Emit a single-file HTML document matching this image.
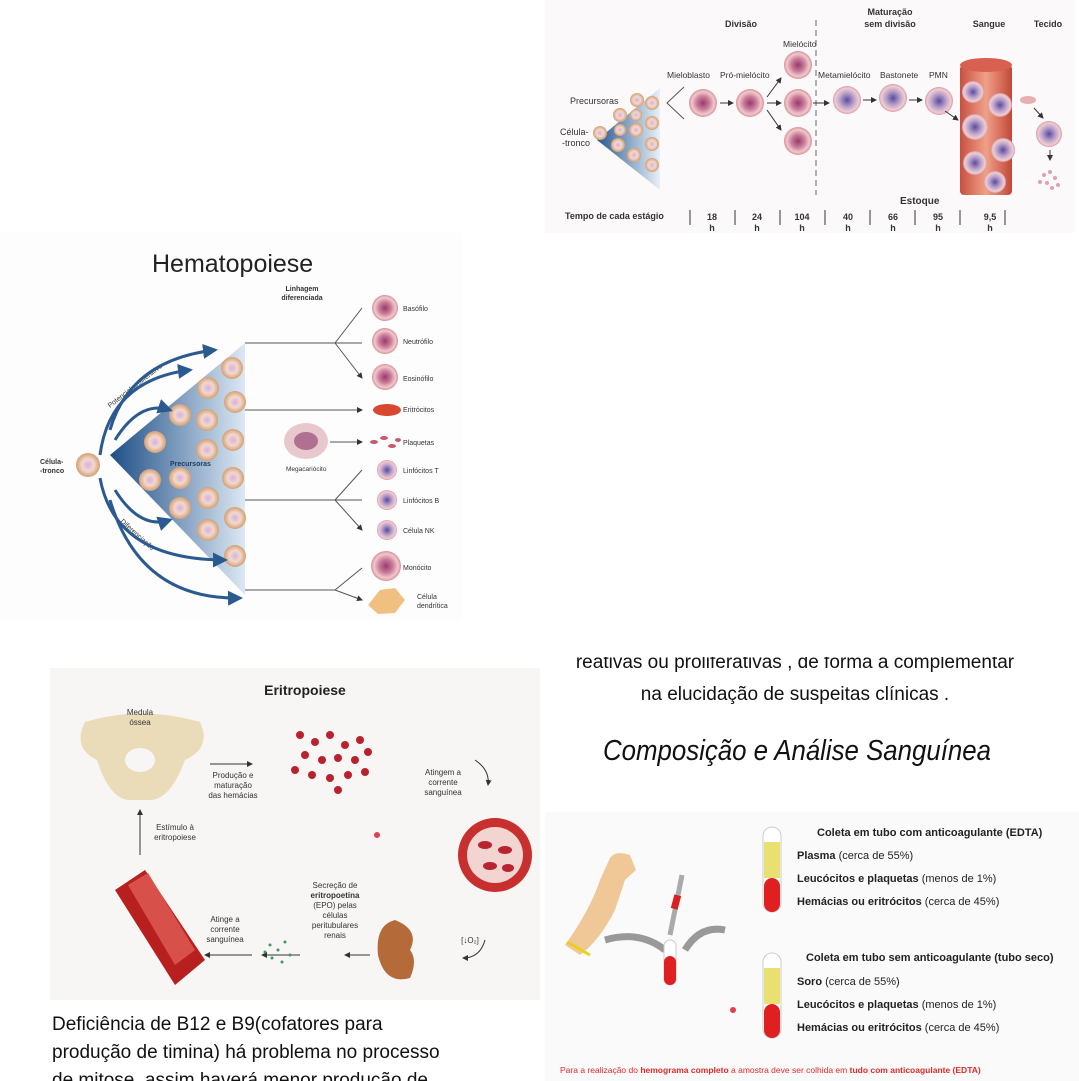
<!DOCTYPE html>
<html><head><meta charset="utf-8"><style>
html,body{margin:0;padding:0;background:#fff;width:1079px;height:1081px;overflow:hidden}
svg{display:block}
text{font-family:"Liberation Sans",sans-serif}
</style></head><body>
<svg width="1079" height="1081" viewBox="0 0 1079 1081" xmlns="http://www.w3.org/2000/svg">
<defs>
<radialGradient id="cell" cx="50%" cy="50%" r="50%"><stop offset="0" stop-color="#9a3a6a"/><stop offset="0.45" stop-color="#c87a98"/><stop offset="0.8" stop-color="#f0c8cc"/><stop offset="1" stop-color="#d89098"/></radialGradient>
<radialGradient id="cell2" cx="50%" cy="50%" r="50%"><stop offset="0" stop-color="#d8b0d8"/><stop offset="0.5" stop-color="#f2d8d0"/><stop offset="1" stop-color="#d4a070"/></radialGradient>
<radialGradient id="ncell" cx="50%" cy="50%" r="50%"><stop offset="0" stop-color="#5a4aa0"/><stop offset="0.5" stop-color="#b8a0c8"/><stop offset="0.85" stop-color="#f0ccd4"/><stop offset="1" stop-color="#d898a0"/></radialGradient>
<linearGradient id="tri" x1="0" x2="1"><stop offset="0" stop-color="#2a5a90"/><stop offset="1" stop-color="#e8f0f8"/></linearGradient>
<linearGradient id="tri2" x1="0" x2="1"><stop offset="0" stop-color="#1e4e86"/><stop offset="1" stop-color="#dce8f4"/></linearGradient>
<linearGradient id="vessel" x1="0" x2="1"><stop offset="0" stop-color="#c85040"/><stop offset="0.5" stop-color="#f0a088"/><stop offset="1" stop-color="#c04838"/></linearGradient>
<marker id="ar" markerWidth="6" markerHeight="6" refX="5" refY="3" orient="auto"><path d="M0,0L6,3L0,6z" fill="#333"/></marker>
<marker id="arb" markerWidth="5" markerHeight="5" refX="4" refY="2.5" orient="auto"><path d="M0,0L5,2.5L0,5z" fill="#2b5a90"/></marker>
</defs>

<!-- TOP RIGHT -->
<rect x="545" y="0" width="530" height="233" fill="#fcf9fb"/>
<g font-size="9" font-weight="bold" fill="#333" text-anchor="middle">
<text x="741" y="27">Divisão</text>
<text x="890" y="15">Maturação</text><text x="890" y="27">sem divisão</text>
<text x="989" y="27">Sangue</text><text x="1048" y="27">Tecido</text>
</g>
<line x1="816" y1="20" x2="816" y2="195" stroke="#666" stroke-dasharray="6,4"/>
<polygon points="597,140 660,88 660,190" fill="url(#tri)"/>
<g fill="url(#cell2)"><circle cx="600" cy="133" r="7"/><circle cx="620" cy="115" r="7"/><circle cx="637" cy="100" r="7"/><circle cx="652" cy="103" r="7"/><circle cx="618" cy="145" r="7"/><circle cx="636" cy="130" r="7"/><circle cx="652" cy="123" r="7"/><circle cx="634" cy="155" r="7"/><circle cx="652" cy="144" r="7"/><circle cx="652" cy="165" r="7"/><circle cx="620" cy="130" r="6"/><circle cx="636" cy="115" r="6"/></g>
<g font-size="9" fill="#333"><text x="570" y="104">Precursoras</text><text x="560" y="135">Célula-</text><text x="562" y="146">-tronco</text></g>
<path d="M684,87 L667,103 L684,119" fill="none" stroke="#555"/>
<g font-size="8.5" fill="#333"><text x="667" y="78">Mieloblasto</text><text x="720" y="78">Pró-mielócito</text><text x="783" y="47">Mielócito</text><text x="818" y="78">Metamielócito</text><text x="880" y="78">Bastonete</text><text x="929" y="78">PMN</text></g>
<g fill="url(#cell)"><circle cx="703" cy="103" r="14"/><circle cx="750" cy="103" r="14"/><circle cx="798" cy="65" r="14"/><circle cx="798" cy="103" r="14"/><circle cx="798" cy="141" r="14"/></g>
<g fill="url(#ncell)"><circle cx="847" cy="100" r="14"/><circle cx="893" cy="98" r="14"/><circle cx="939" cy="101" r="14"/><circle cx="1049" cy="134" r="13"/></g>
<g stroke="#333" marker-end="url(#ar)"><line x1="720" y1="103" x2="733" y2="103"/><line x1="767" y1="97" x2="781" y2="78"/><line x1="767" y1="103" x2="781" y2="103"/><line x1="767" y1="110" x2="781" y2="130"/><line x1="813" y1="103" x2="829" y2="103"/><line x1="863" y1="100" x2="876" y2="100"/><line x1="909" y1="100" x2="922" y2="100"/><line x1="945" y1="111" x2="958" y2="120"/><line x1="1034" y1="108" x2="1043" y2="118"/><line x1="1050" y1="150" x2="1050" y2="160"/></g>
<rect x="960" y="65" width="52" height="130" rx="4" fill="url(#vessel)"/>
<ellipse cx="986" cy="65" rx="26" ry="7" fill="#d86050"/>
<g fill="url(#ncell)"><circle cx="973" cy="92" r="11"/><circle cx="1000" cy="105" r="12"/><circle cx="975" cy="127" r="13"/><circle cx="975" cy="163" r="12"/><circle cx="1003" cy="150" r="12"/><circle cx="995" cy="182" r="11"/></g>
<ellipse cx="1028" cy="100" rx="8" ry="4" fill="#e8b0b0"/>
<g fill="#e0a0b0"><circle cx="1044" cy="175" r="2"/><circle cx="1050" cy="172" r="2"/><circle cx="1055" cy="178" r="2"/><circle cx="1047" cy="183" r="2"/><circle cx="1058" cy="185" r="2"/><circle cx="1052" cy="188" r="2"/><circle cx="1040" cy="182" r="2"/></g>
<text x="900" y="204" font-size="10" font-weight="bold" fill="#333">Estoque</text>
<text x="565" y="219" font-size="9" font-weight="bold" fill="#333">Tempo de cada estágio</text>
<g stroke="#333"><line x1="690" y1="210" x2="690" y2="225"/><line x1="735" y1="210" x2="735" y2="225"/><line x1="780" y1="210" x2="780" y2="225"/><line x1="825" y1="210" x2="825" y2="225"/><line x1="870" y1="210" x2="870" y2="225"/><line x1="915" y1="210" x2="915" y2="225"/><line x1="960" y1="210" x2="960" y2="225"/><line x1="1005" y1="210" x2="1005" y2="225"/></g>
<g font-size="9" font-weight="bold" fill="#333" text-anchor="middle"><text x="712" y="220">18</text><text x="757" y="220">24</text><text x="802" y="220">104</text><text x="848" y="220">40</text><text x="893" y="220">66</text><text x="938" y="220">95</text><text x="990" y="220">9,5</text>
<text x="712" y="231">h</text><text x="757" y="231">h</text><text x="802" y="231">h</text><text x="848" y="231">h</text><text x="893" y="231">h</text><text x="938" y="231">h</text><text x="990" y="231">h</text></g>

<!-- HEMATOPOIESE -->
<rect x="0" y="233" width="462" height="387" fill="#fdfdfe"/>
<text x="152" y="272" font-size="25" fill="#222">Hematopoiese</text>
<g font-size="7" font-weight="bold" fill="#333" text-anchor="middle"><text x="302" y="291">Linhagem</text><text x="302" y="300">diferenciada</text></g>
<polygon points="110,455 245,343 245,595" fill="url(#tri2)"/>
<g fill="url(#cell2)">
<circle cx="232" cy="368" r="11"/><circle cx="208" cy="388" r="11"/><circle cx="235" cy="402" r="11"/><circle cx="180" cy="415" r="11"/><circle cx="207" cy="420" r="11"/><circle cx="233" cy="440" r="11"/><circle cx="155" cy="442" r="11"/><circle cx="207" cy="450" r="11"/><circle cx="150" cy="480" r="11"/><circle cx="180" cy="478" r="11"/><circle cx="233" cy="478" r="11"/><circle cx="208" cy="498" r="11"/><circle cx="180" cy="508" r="11"/><circle cx="235" cy="518" r="11"/><circle cx="208" cy="530" r="11"/><circle cx="235" cy="556" r="11"/><circle cx="88" cy="465" r="12"/>
</g>
<text x="170" y="466" font-size="7" font-weight="bold" fill="#1e3e66">Precursoras</text>
<g font-size="7" font-weight="bold" fill="#333"><text x="40" y="464">Célula-</text><text x="40" y="473">-tronco</text></g>
<text x="110" y="408" font-size="7" fill="#333" transform="rotate(-38 110 408)">Potencial proliferativo</text>
<text x="120" y="522" font-size="7" fill="#333" transform="rotate(42 120 522)">Diferenciação</text>
<g fill="none" stroke="#2b5a90" stroke-width="3" marker-end="url(#arb)">
<path d="M100,455 Q110,380 190,370"/><path d="M110,430 Q130,360 215,350"/><path d="M100,478 Q115,560 225,560"/><path d="M110,500 Q140,600 240,598"/><path d="M115,440 Q140,400 170,410"/><path d="M115,490 Q140,530 170,520"/>
</g>
<g stroke="#555" fill="none">
<line x1="245" y1="343" x2="335" y2="343"/><path d="M335,343 L362,308 M335,343 L362,343 M335,343 L362,378" marker-end="url(#ar)"/>
<line x1="245" y1="410" x2="362" y2="410" marker-end="url(#ar)"/>
<line x1="330" y1="442" x2="362" y2="442" marker-end="url(#ar)"/>
<line x1="245" y1="500" x2="335" y2="500"/><path d="M335,500 L362,470 M335,500 L362,500 M335,500 L362,530" marker-end="url(#ar)"/>
<line x1="245" y1="590" x2="335" y2="590"/><path d="M335,590 L362,568 M335,590 L362,600" marker-end="url(#ar)"/>
</g>
<ellipse cx="306" cy="441" rx="22" ry="18" fill="#e8c8cc"/><ellipse cx="306" cy="441" rx="12" ry="9" fill="#b07090"/>
<text x="286" y="471" font-size="6.5" fill="#333">Megacariócito</text>
<g fill="url(#cell)"><circle cx="385" cy="308" r="13"/><circle cx="385" cy="341" r="13"/><circle cx="385" cy="377" r="13"/><circle cx="386" cy="566" r="15"/></g>
<ellipse cx="387" cy="410" rx="14" ry="6" fill="#d84830"/>
<g fill="#c85a70"><ellipse cx="374" cy="442" rx="4" ry="2"/><ellipse cx="384" cy="438" rx="4" ry="2"/><ellipse cx="392" cy="446" rx="4" ry="2"/><ellipse cx="398" cy="440" rx="3" ry="2"/></g>
<g fill="url(#ncell)"><circle cx="387" cy="470" r="10"/><circle cx="387" cy="500" r="10"/><circle cx="387" cy="530" r="10"/></g>
<path d="M368,605 L380,590 L395,588 L405,600 L395,613 L378,614z" fill="#f0c080"/>
<g font-size="7" fill="#333"><text x="403" y="311">Basófilo</text><text x="403" y="344">Neutrófilo</text><text x="403" y="381">Eosinófilo</text><text x="403" y="412">Eritrócitos</text><text x="403" y="445">Plaquetas</text><text x="403" y="473">Linfócitos T</text><text x="403" y="503">Linfócitos B</text><text x="403" y="533">Célula NK</text><text x="403" y="570">Monócito</text><text x="417" y="599">Célula</text><text x="417" y="608">dendrítica</text></g>

<!-- TEXT middle right -->
<text x="795" y="668" font-size="19" fill="#111" text-anchor="middle">reativas ou proliferativas , de forma a complementar</text>
<rect x="545" y="650" width="520" height="7" fill="#fff"/>
<text x="795" y="700" font-size="19" fill="#111" text-anchor="middle">na elucidação de suspeitas clínicas .</text>
<text x="797" y="760" font-size="29" font-style="italic" fill="#111" text-anchor="middle" font-family="Liberation Serif,serif" textLength="388" lengthAdjust="spacingAndGlyphs">Composição e Análise Sanguínea</text>

<!-- ERITROPOIESE -->
<rect x="50" y="668" width="490" height="332" fill="#f8f5f5"/>
<path d="M85,722 Q140,705 200,722 Q212,748 185,760 Q170,800 150,800 L130,800 Q110,800 97,760 Q72,748 85,722z" fill="#eadcb8"/>
<ellipse cx="140" cy="760" rx="15" ry="12" fill="#f8f5f5"/>
<text x="305" y="695" font-size="14" font-weight="bold" fill="#222" text-anchor="middle">Eritropoiese</text>
<g font-size="8" fill="#333" text-anchor="middle"><text x="140" y="715">Medula</text><text x="140" y="725">óssea</text>
<text x="233" y="778">Produção e</text><text x="233" y="788">maturação</text><text x="233" y="798">das hemácias</text>
<text x="443" y="775">Atingem a</text><text x="443" y="785">corrente</text><text x="443" y="795">sanguínea</text>
<text x="175" y="830">Estímulo à</text><text x="175" y="840">eritropoiese</text>
<text x="335" y="888">Secreção de</text><text x="335" y="898" font-weight="bold">eritropoetina</text><text x="335" y="908">(EPO) pelas</text><text x="335" y="918">células</text><text x="335" y="928">peritubulares</text><text x="335" y="938">renais</text>
<text x="225" y="922">Atinge a</text><text x="225" y="932">corrente</text><text x="225" y="942">sanguínea</text>
<text x="470" y="943">[↓O₂]</text></g>
<g stroke="#333" marker-end="url(#ar)"><line x1="210" y1="764" x2="252" y2="764"/><line x1="140" y1="855" x2="140" y2="810"/><line x1="300" y1="955" x2="262" y2="955"/><line x1="252" y1="955" x2="205" y2="955"/><line x1="370" y1="955" x2="345" y2="955"/><path d="M475,760 Q490,770 488,785" fill="none"/><path d="M485,940 Q480,958 463,958" fill="none"/></g>
<g fill="#b8222c"><circle cx="300" cy="735" r="4"/><circle cx="315" cy="742" r="4"/><circle cx="330" cy="735" r="4"/><circle cx="345" cy="745" r="4"/><circle cx="360" cy="740" r="4"/><circle cx="305" cy="755" r="4"/><circle cx="322" cy="760" r="4"/><circle cx="338" cy="758" r="4"/><circle cx="355" cy="760" r="4"/><circle cx="368" cy="752" r="4"/><circle cx="312" cy="775" r="4"/><circle cx="330" cy="778" r="4"/><circle cx="348" cy="775" r="4"/><circle cx="365" cy="772" r="4"/><circle cx="338" cy="790" r="4"/><circle cx="295" cy="770" r="4"/></g>
<circle cx="495" cy="855" r="37" fill="#c83030"/><circle cx="495" cy="855" r="28" fill="#f2d4d0"/>
<g fill="#b82430"><ellipse cx="485" cy="845" rx="7" ry="4"/><ellipse cx="505" cy="850" rx="7" ry="4"/><ellipse cx="490" cy="866" rx="7" ry="4"/><ellipse cx="508" cy="868" rx="6" ry="4"/></g>
<circle cx="377" cy="835" r="3" fill="#e04050"/>
<path d="M395,920 Q375,925 378,955 Q385,985 410,978 Q418,960 410,950 Q420,930 395,920z" fill="#b56a3a"/>
<path d="M115,890 L145,870 L205,960 L175,985z" fill="#b82020"/><path d="M128,885 L148,873 L195,950 L175,965z" fill="#d8504a"/>
<g fill="#3a9a5a"><circle cx="270" cy="945" r="1.5"/><circle cx="278" cy="950" r="1.5"/><circle cx="285" cy="942" r="1.5"/><circle cx="272" cy="958" r="1.5"/><circle cx="290" cy="955" r="1.5"/><circle cx="282" cy="962" r="1.5"/><circle cx="265" cy="952" r="1.5"/></g>

<!-- TEXT bottom left -->
<g font-size="19" fill="#111"><text x="52" y="1030">Deficiência de B12 e B9(cofatores para</text><text x="52" y="1058">produção de timina) há problema no processo</text><text x="52" y="1086">de mitose, assim haverá menor produção de</text></g>

<!-- BOTTOM RIGHT -->
<rect x="545" y="812" width="534" height="269" fill="#fbfafa"/>
<path d="M565,945 Q590,910 600,880 L610,858 Q615,850 630,855 L636,870 L625,880 L615,910 Q600,940 580,955z" fill="#f0c898"/>
<path d="M567,942 L590,955" stroke="#e8d020" stroke-width="3"/>
<path d="M605,940 Q640,930 665,950" stroke="#999" stroke-width="7" fill="none"/>
<path d="M685,950 Q700,925 725,930" stroke="#999" stroke-width="7" fill="none"/>
<rect x="664" y="940" width="12" height="45" rx="6" fill="#fff" stroke="#ccc"/><rect x="664" y="956" width="12" height="29" rx="6" fill="#e02020"/>
<line x1="682" y1="875" x2="670" y2="935" stroke="#aaa" stroke-width="5"/>
<rect x="673" y="895" width="7" height="14" fill="#d82020" transform="rotate(15 676 900)"/>
<circle cx="733" cy="1010" r="3" fill="#e04050"/>
<g>
<rect x="763" y="827" width="18" height="85" rx="9" fill="#fff" stroke="#ccc"/><rect x="764" y="842" width="16" height="36" fill="#e8e070"/><rect x="764" y="878" width="16" height="34" rx="8" fill="#e02020"/>
<rect x="763" y="953" width="18" height="85" rx="9" fill="#fff" stroke="#ccc"/><rect x="764" y="968" width="16" height="36" fill="#e8e070"/><rect x="764" y="1004" width="16" height="34" rx="8" fill="#e02020"/>
</g>
<g font-size="11" fill="#222">
<text x="817" y="836" font-weight="bold">Coleta em tubo com anticoagulante (EDTA)</text>
<text x="797" y="859"><tspan font-weight="bold">Plasma</tspan> (cerca de 55%)</text>
<text x="797" y="882"><tspan font-weight="bold">Leucócitos e plaquetas</tspan> (menos de 1%)</text>
<text x="797" y="905"><tspan font-weight="bold">Hemácias ou eritrócitos</tspan> (cerca de 45%)</text>
<text x="806" y="961" font-weight="bold">Coleta em tubo sem anticoagulante (tubo seco)</text>
<text x="797" y="985"><tspan font-weight="bold">Soro</tspan> (cerca de 55%)</text>
<text x="797" y="1008"><tspan font-weight="bold">Leucócitos e plaquetas</tspan> (menos de 1%)</text>
<text x="797" y="1031"><tspan font-weight="bold">Hemácias ou eritrócitos</tspan> (cerca de 45%)</text>
</g>
<text x="560" y="1073" font-size="8.5" fill="#e02828">Para a realização do <tspan font-weight="bold">hemograma completo</tspan> a amostra deve ser colhida em <tspan font-weight="bold">tudo com anticoagulante (EDTA)</tspan></text>
</svg>
</body></html>
